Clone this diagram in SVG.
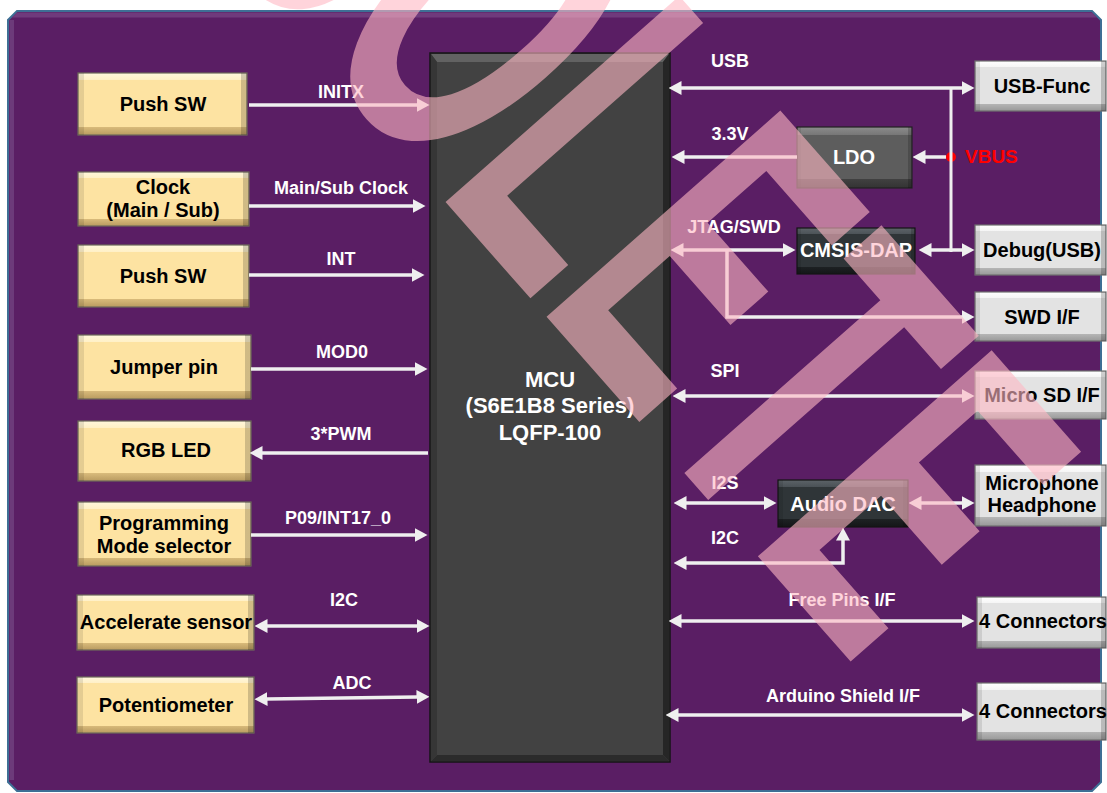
<svg xmlns="http://www.w3.org/2000/svg" width="1107" height="793" viewBox="0 0 1107 793">
<style>
text{font-family:'Liberation Sans',Arial,sans-serif;font-weight:bold}
.bl{font-size:20px;fill:#000;text-anchor:middle}
.dl{font-size:20px;fill:#fff;text-anchor:middle}
.wl{font-size:18px;fill:#fff;text-anchor:middle}
.tan{fill:url(#gTan);stroke:#6e6a5a;stroke-width:1.2}
.gry{fill:url(#gGray);stroke:#707070;stroke-width:1.2}
.drk{fill:url(#gDark);stroke:#151515;stroke-width:1.2}
.ldo{fill:url(#gLdo);stroke:#222;stroke-width:1.2}
.side{fill:url(#gSide);stroke:none}
.c{fill:none;stroke:#efefef;stroke-width:3.5}
.e{marker-end:url(#ah)}
.b{marker-start:url(#ah);marker-end:url(#ah)}
</style>
<defs>
<marker id="ah" viewBox="0 0 13 14" refX="0.5" refY="7" markerWidth="13" markerHeight="14" markerUnits="userSpaceOnUse" orient="auto-start-reverse">
<path d="M0,0 L13,7 L0,14 z" fill="#efefef"/>
</marker>
<linearGradient id="gTan" x1="0" y1="0" x2="0" y2="1">
<stop offset="0" stop-color="#fff7dc"/><stop offset="0.11" stop-color="#fff0c6"/>
<stop offset="0.11" stop-color="#fde3a2"/><stop offset="0.87" stop-color="#fde3a2"/>
<stop offset="0.87" stop-color="#d9bb7b"/><stop offset="1" stop-color="#b99b60"/>
</linearGradient>
<linearGradient id="gGray" x1="0" y1="0" x2="0" y2="1">
<stop offset="0" stop-color="#ffffff"/><stop offset="0.12" stop-color="#f5f5f5"/>
<stop offset="0.12" stop-color="#e3e3e3"/><stop offset="0.86" stop-color="#e3e3e3"/>
<stop offset="0.86" stop-color="#b5b5b5"/><stop offset="1" stop-color="#999"/>
</linearGradient>
<linearGradient id="gDark" x1="0" y1="0" x2="0" y2="1">
<stop offset="0" stop-color="#5c6368"/><stop offset="0.14" stop-color="#4b5257"/>
<stop offset="0.14" stop-color="#2f3538"/><stop offset="0.84" stop-color="#2f3538"/>
<stop offset="0.84" stop-color="#1d2123"/><stop offset="1" stop-color="#141618"/>
</linearGradient>
<linearGradient id="gLdo" x1="0" y1="0" x2="0" y2="1">
<stop offset="0" stop-color="#8c8c8c"/><stop offset="0.13" stop-color="#777"/>
<stop offset="0.13" stop-color="#5d5d5d"/><stop offset="0.86" stop-color="#5d5d5d"/>
<stop offset="0.86" stop-color="#404040"/><stop offset="1" stop-color="#333"/>
</linearGradient>
<linearGradient id="gSide" x1="0" y1="0" x2="1" y2="0">
<stop offset="0" stop-color="#000" stop-opacity="0.10"/><stop offset="0.035" stop-color="#000" stop-opacity="0.10"/>
<stop offset="0.035" stop-color="#000" stop-opacity="0"/><stop offset="0.965" stop-color="#000" stop-opacity="0"/>
<stop offset="0.965" stop-color="#000" stop-opacity="0.18"/><stop offset="1" stop-color="#000" stop-opacity="0.18"/>
</linearGradient>
</defs>

<rect width="1107" height="793" fill="#fff"/>
<g id="panel">
<polygon points="17,11 1092,11 1101,20 1101,782 1092,791 17,791 8,782 8,20" fill="#5a1e64" stroke="#3e6f95" stroke-width="2"/>
<polygon points="17,12.5 1092,12.5 1097,17.5 12,17.5" fill="#6f3a7c"/>
<polygon points="9.5,20 14,20 14,780 9.5,780" fill="#6c3a7a"/>
</g>

<g id="mcu">
<rect x="430" y="53" width="240" height="709" fill="#424242" stroke="#151515" stroke-width="1.5"/>
<polygon points="431,54 669,54 663,62 437,62" fill="#626262"/>
<polygon points="669,54 669,761 663,755 663,62" fill="#262626"/>
<polygon points="431,761 669,761 663,755 437,755" fill="#2b2b2b"/>
<polygon points="431,54 437,62 437,755 431,761" fill="#363636"/>
<text x="550" y="387" class="dl" font-size="22" style="font-size:22px">MCU</text>
<text x="550" y="413" class="dl" style="font-size:22px">(S6E1B8 Series)</text>
<text x="550" y="440" class="dl" style="font-size:22px">LQFP-100</text>
</g>

<g id="n-pushsw1"><rect class="tan" x="78" y="73" width="169" height="62"/><rect class="side" x="78" y="73" width="169" height="62"/><text class="bl" x="163" y="111">Push SW</text></g>
<g id="n-clock"><rect class="tan" x="78" y="172" width="171" height="54"/><rect class="side" x="78" y="172" width="171" height="54"/><text class="bl" x="163" y="194">Clock</text><text class="bl" x="163" y="217">(Main / Sub)</text></g>
<g id="n-pushsw2"><rect class="tan" x="78" y="245" width="171" height="62"/><rect class="side" x="78" y="245" width="171" height="62"/><text class="bl" x="163" y="283">Push SW</text></g>
<g id="n-jumper"><rect class="tan" x="78" y="335" width="173" height="64"/><rect class="side" x="78" y="335" width="173" height="64"/><text class="bl" x="164" y="374">Jumper pin</text></g>
<g id="n-rgbled"><rect class="tan" x="78" y="421" width="173" height="60"/><rect class="side" x="78" y="421" width="173" height="60"/><text class="bl" x="166" y="457">RGB LED</text></g>
<g id="n-progmode"><rect class="tan" x="78" y="502" width="173" height="64"/><rect class="side" x="78" y="502" width="173" height="64"/><text class="bl" x="164" y="530">Programming</text><text class="bl" x="164" y="553">Mode selector</text></g>
<g id="n-accel"><rect class="tan" x="77" y="595" width="177" height="55"/><rect class="side" x="77" y="595" width="177" height="55"/><text class="bl" x="166" y="629">Accelerate sensor</text></g>
<g id="n-pot"><rect class="tan" x="77" y="677" width="177" height="56"/><rect class="side" x="77" y="677" width="177" height="56"/><text class="bl" x="166" y="712">Potentiometer</text></g>

<g id="n-usbfunc"><rect class="gry" x="975" y="61" width="131" height="50"/><rect class="side" x="975" y="61" width="131" height="50"/><text class="bl" x="1042" y="93">USB-Func</text></g>
<g id="n-ldo"><rect class="ldo" x="797" y="127" width="115" height="61"/><rect class="side" x="797" y="127" width="115" height="61"/><text class="dl" x="854" y="164">LDO</text></g>
<g id="n-cmsis"><rect class="drk" x="797" y="228" width="118" height="46"/><rect class="side" x="797" y="228" width="118" height="46"/><text class="dl" x="856" y="257">CMSIS-DAP</text></g>
<g id="n-debug"><rect class="gry" x="975" y="225" width="131" height="50"/><rect class="side" x="975" y="225" width="131" height="50"/><text class="bl" x="1042" y="257">Debug(USB)</text></g>
<g id="n-swd"><rect class="gry" x="975" y="292" width="131" height="49"/><rect class="side" x="975" y="292" width="131" height="49"/><text class="bl" x="1042" y="324">SWD I/F</text></g>
<g id="n-microsd"><rect class="gry" x="975" y="371" width="131" height="48"/><rect class="side" x="975" y="371" width="131" height="48"/><text class="bl" x="1042" y="402">Micro SD I/F</text></g>
<g id="n-audiodac"><rect class="drk" x="778" y="480" width="130" height="47"/><rect class="side" x="778" y="480" width="130" height="47"/><text class="dl" x="843" y="511">Audio DAC</text></g>
<g id="n-mic"><rect class="gry" x="975" y="465" width="131" height="61"/><rect class="side" x="975" y="465" width="131" height="61"/><text class="bl" x="1042" y="490">Microphone</text><text class="bl" x="1042" y="512">Headphone</text></g>
<g id="n-conn1"><rect class="gry" x="977" y="597" width="129" height="51"/><rect class="side" x="977" y="597" width="129" height="51"/><text class="bl" x="1043" y="628">4 Connectors</text></g>
<g id="n-conn2"><rect class="gry" x="977" y="683" width="129" height="57"/><rect class="side" x="977" y="683" width="129" height="57"/><text class="bl" x="1043" y="718">4 Connectors</text></g>
<g id="n-vbus"><circle cx="951" cy="157" r="5" fill="#ff0000"/><text x="965" y="163" style="font-size:19px;fill:#ff0000">VBUS</text></g>

<g id="connectors">
<path class="c e" d="M249,105 H417"/>
<path class="c e" d="M249,206 H413"/>
<path class="c e" d="M249,275 H412"/>
<path class="c e" d="M251,369 H415"/>
<path class="c e" d="M428,453 H262"/>
<path class="c e" d="M251,535 H415"/>
<path class="c b" d="M267,626 H417"/>
<path class="c b" d="M267,699 L417,697"/>
<path class="c b" d="M681,88 H962"/>
<path class="c e" d="M797,157 H684"/>
<path class="c e" d="M946,157 H925"/>
<path class="c b" d="M683,250 H783"/>
<path class="c b" d="M931,250 H962"/>
<path class="c" style="stroke-width:3" d="M951,88 V252"/>
<path class="c e" d="M727,251 V317 H962"/>
<path class="c b" d="M685,396 H962"/>
<path class="c b" d="M686,503 H764"/>
<path class="c b" d="M921,503 H962"/>
<path class="c b" d="M843,540 V563 H686"/>
<path class="c b" d="M681,621 H962"/>
<path class="c b" d="M678,715 H962"/>
<text class="wl" x="341" y="98">INITX</text>
<text class="wl" x="341" y="194">Main/Sub Clock</text>
<text class="wl" x="341" y="265">INT</text>
<text class="wl" x="342" y="358">MOD0</text>
<text class="wl" x="341" y="440">3*PWM</text>
<text class="wl" x="338" y="524">P09/INT17_0</text>
<text class="wl" x="344" y="606">I2C</text>
<text class="wl" x="352" y="689">ADC</text>
<text class="wl" x="730" y="67">USB</text>
<text class="wl" x="730" y="140">3.3V</text>
<text class="wl" x="734" y="233">JTAG/SWD</text>
<text class="wl" x="725" y="377">SPI</text>
<text class="wl" x="725" y="489">I2S</text>
<text class="wl" x="725" y="544">I2C</text>
<text class="wl" x="842" y="606">Free Pins I/F</text>
<text class="wl" x="843" y="702">Arduino Shield I/F</text>
</g>

<g id="watermark" opacity="0.6">
<text transform="translate(-52.5,-362.8) rotate(48.6) scale(0.552,1)" style="font-size:453px;fill:#ffb8c4">OBSOLETE</text>
</g>
</svg>
